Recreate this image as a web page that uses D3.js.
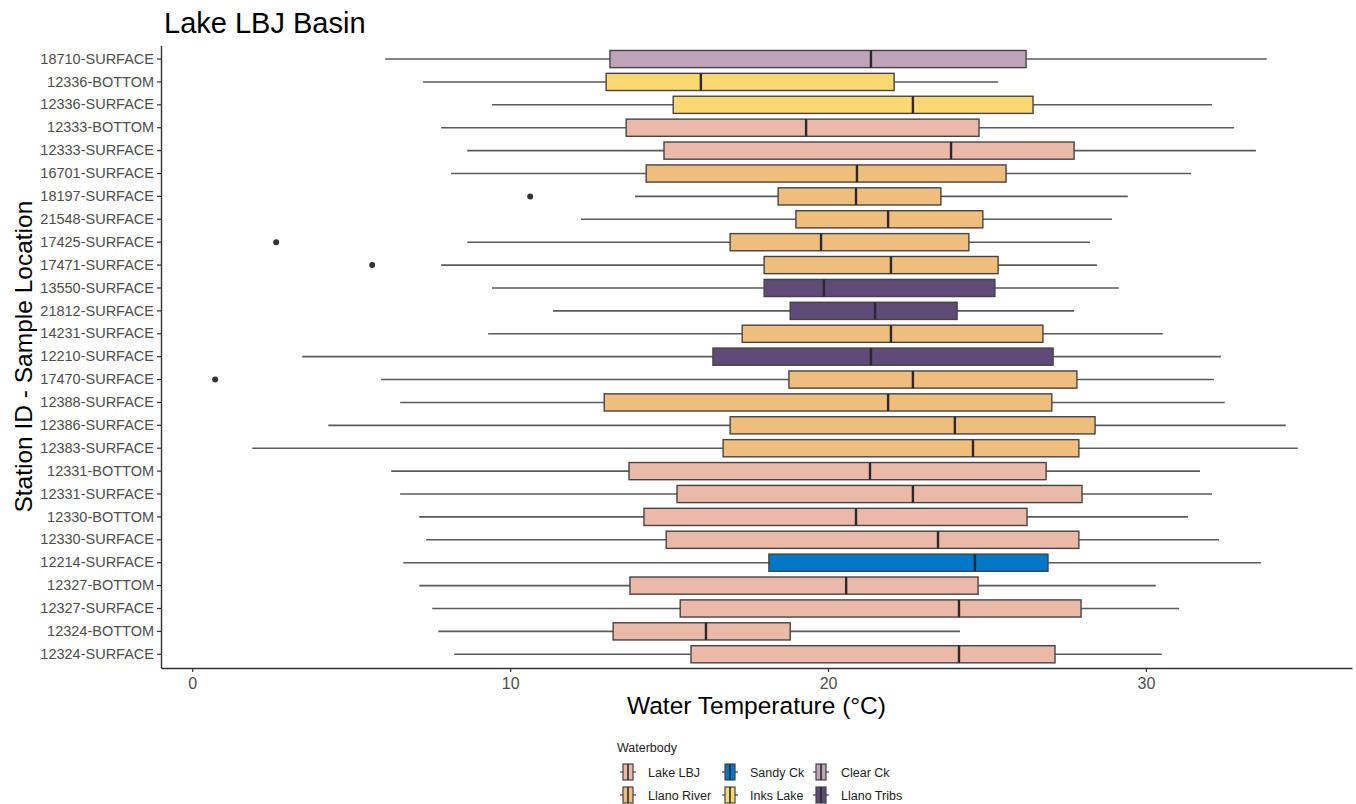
<!DOCTYPE html>
<html>
<head>
<meta charset="utf-8">
<script src="https://cdn.jsdelivr.net/npm/d3@7"></script>
<style>
  body { margin: 0; background: white; }
  text { font-family: "Liberation Sans", Arial, Helvetica, sans-serif; }
</style>
</head>
<body>
<svg id="chart" width="1356" height="804"></svg>
<script>
// Stations, top to bottom
var stations = [
  "18710-SURFACE", "12336-BOTTOM", "12336-SURFACE", "12333-BOTTOM", "12333-SURFACE",
  "16701-SURFACE", "18197-SURFACE", "21548-SURFACE", "17425-SURFACE", "17471-SURFACE",
  "13550-SURFACE", "21812-SURFACE", "14231-SURFACE", "12210-SURFACE", "17470-SURFACE",
  "12388-SURFACE", "12386-SURFACE", "12383-SURFACE", "12331-BOTTOM", "12331-SURFACE",
  "12330-BOTTOM", "12330-SURFACE", "12214-SURFACE", "12327-BOTTOM", "12327-SURFACE",
  "12324-BOTTOM", "12324-SURFACE"
];
var waterbody = [
  "Clear Ck", "Inks Lake", "Inks Lake", "Lake LBJ", "Lake LBJ",
  "Llano River", "Llano River", "Llano River", "Llano River", "Llano River",
  "Llano Tribs", "Llano Tribs", "Llano River", "Llano Tribs", "Llano River",
  "Llano River", "Llano River", "Llano River", "Lake LBJ", "Lake LBJ",
  "Lake LBJ", "Lake LBJ", "Sandy Ck", "Lake LBJ", "Lake LBJ",
  "Lake LBJ", "Lake LBJ"
];
// five-number summaries (lower whisker, Q1, median, Q3, upper whisker)
var lowWhisker = [6.07, 7.26, 9.43, 7.83, 8.65, 8.14, 13.93, 12.23, 8.65, 7.83,
  9.43, 11.35, 9.31, 3.46, 5.94, 6.54, 4.28, 1.89, 6.26, 6.54, 7.14, 7.36, 6.64, 7.14, 7.55, 7.74, 8.24];
var q1 = [13.14, 13.02, 15.13, 13.65, 14.84, 14.28, 18.43, 18.99, 16.92, 17.99,
  17.99, 18.81, 17.3, 16.38, 18.77, 12.96, 16.92, 16.7, 13.74, 15.25, 14.21, 14.91, 18.14, 13.77, 15.35, 13.24, 15.69];
var median = [21.35, 16.0, 22.67, 19.31, 23.87, 20.91, 20.88, 21.89, 19.78, 21.98,
  19.87, 21.48, 21.98, 21.35, 22.67, 21.89, 23.99, 24.56, 21.32, 22.67, 20.88, 23.46, 24.62, 20.57, 24.12, 16.16, 24.12];
var q3 = [26.23, 22.08, 26.45, 24.75, 27.74, 25.6, 23.55, 24.87, 24.43, 25.35,
  25.25, 24.06, 26.76, 27.08, 27.83, 27.04, 28.4, 27.89, 26.86, 27.99, 26.26, 27.89, 26.92, 24.72, 27.96, 18.81, 27.14];
var highWhisker = [33.8, 25.35, 32.08, 32.77, 33.46, 31.42, 29.43, 28.93, 28.24, 28.46,
  29.15, 27.74, 30.53, 32.36, 32.14, 32.48, 34.4, 34.78, 31.7, 32.08, 31.32, 32.3, 33.62, 30.31, 31.04, 24.15, 30.5];
// outliers
var outlierStation = ["18197-SURFACE", "17425-SURFACE", "17471-SURFACE", "17470-SURFACE"];
var outlierValue = [10.63, 2.64, 5.66, 0.72];

var legendNames = ["Lake LBJ", "Llano River", "Sandy Ck", "Inks Lake", "Clear Ck", "Llano Tribs"];
var legendColors = ["#EBB9A7", "#EFBE7D", "#0077C8", "#FCD872", "#BFA3B9", "#5F4A78"];
var xTicks = [0, 10, 20, 30];

var svg = d3.select("#chart");
var panelLeft = 161, panelRight = 1352, panelTop = 45.3, panelBottom = 668;

var color = d3.scaleOrdinal().domain(legendNames).range(legendColors);

// ggplot style 5% expansion
var allVals = lowWhisker.concat(highWhisker, outlierValue);
var lo = d3.min(allVals), hi = d3.max(allVals), pad = (hi - lo) * 0.05;
var x = d3.scaleLinear().domain([lo - pad, hi + pad]).range([panelLeft, panelRight]);

var y = d3.scaleBand().domain(stations).range([panelTop, panelBottom]).paddingOuter(0.1).paddingInner(0);
var band = y.bandwidth();
var boxH = band * 0.75;

var rows = stations.map(function (s, i) {
  return { s: s, wb: waterbody[i], lw: lowWhisker[i], q1: q1[i], md: median[i], q3: q3[i], hw: highWhisker[i] };
});

var g = svg.append("g");
var row = g.selectAll(".row").data(rows).enter().append("g")
  .attr("transform", function (d) { return "translate(0," + (y(d.s) + band / 2) + ")"; });

// whiskers
row.append("line").attr("x1", function (d) { return x(d.lw); }).attr("x2", function (d) { return x(d.q1); })
  .attr("stroke", "#5a5a5a").attr("stroke-width", 1.6);
row.append("line").attr("x1", function (d) { return x(d.q3); }).attr("x2", function (d) { return x(d.hw); })
  .attr("stroke", "#5a5a5a").attr("stroke-width", 1.6);

// boxes
row.append("rect")
  .attr("x", function (d) { return x(d.q1); })
  .attr("width", function (d) { return x(d.q3) - x(d.q1); })
  .attr("y", -boxH / 2).attr("height", boxH)
  .attr("fill", function (d) { return color(d.wb); })
  .attr("stroke", "#444").attr("stroke-width", 1.4);

// medians
row.append("line").attr("x1", function (d) { return x(d.md); }).attr("x2", function (d) { return x(d.md); })
  .attr("y1", -boxH / 2).attr("y2", boxH / 2)
  .attr("stroke", "#2a2a2a").attr("stroke-width", 2.4);

// outliers
g.selectAll(".out").data(outlierStation).enter().append("circle")
  .attr("cx", function (d, i) { return x(outlierValue[i]); })
  .attr("cy", function (d) { return y(d) + band / 2; })
  .attr("r", 3).attr("fill", "#333");

// axes
var xAxis = svg.append("g").attr("transform", "translate(0," + panelBottom + ")")
  .call(d3.axisBottom(x).tickValues(xTicks).tickSize(4).tickPadding(6).tickSizeOuter(0));
xAxis.select(".domain").attr("stroke", "#333").attr("stroke-width", 1.4);
xAxis.selectAll(".tick line").attr("stroke", "#333").attr("stroke-width", 1.2);
xAxis.selectAll(".tick text").attr("fill", "#4d4d4d").style("font-size", "16px");

var yAxis = svg.append("g").attr("transform", "translate(" + panelLeft + ",0)")
  .call(d3.axisLeft(y).tickSize(4).tickPadding(3).tickSizeOuter(0));
yAxis.select(".domain").attr("stroke", "#333").attr("stroke-width", 1.4);
yAxis.selectAll(".tick line").attr("stroke", "#333").attr("stroke-width", 1.2);
yAxis.selectAll(".tick text").attr("fill", "#4d4d4d").style("font-size", "14.5px");

// titles
svg.append("text").attr("x", 164).attr("y", 33).text("Lake LBJ Basin")
  .style("font-size", "29px").attr("fill", "#000");
svg.append("text").attr("x", (panelLeft + panelRight) / 2).attr("y", 714).attr("text-anchor", "middle")
  .text("Water Temperature (°C)").style("font-size", "24.5px").attr("fill", "#000");
svg.append("text").attr("transform", "translate(32," + (panelTop + panelBottom) / 2 + ") rotate(-90)")
  .attr("text-anchor", "middle").text("Station ID - Sample Location")
  .style("font-size", "24.5px").attr("fill", "#000");

// legend
var lg = svg.append("g");
lg.append("text").attr("x", 617).attr("y", 752).text("Waterbody").style("font-size", "12.5px").attr("fill", "#222");
var colX = [628, 730, 821];
var rowY = [772, 795];
var item = lg.selectAll(".item").data(legendNames).enter().append("g")
  .attr("transform", function (d, i) { return "translate(" + colX[Math.floor(i / 2)] + "," + rowY[i % 2] + ")"; });
item.append("line").attr("x1", -8).attr("x2", 8).attr("stroke", "#5a5a5a").attr("stroke-width", 1.4);
item.append("rect").attr("x", -5).attr("width", 10).attr("y", -8).attr("height", 16)
  .attr("fill", function (d) { return color(d); }).attr("stroke", "#444").attr("stroke-width", 1.2);
item.append("line").attr("y1", -8).attr("y2", 8).attr("stroke", "#2a2a2a").attr("stroke-width", 1.6);
item.append("text").attr("x", 20).attr("y", 4.5).text(function (d) { return d; })
  .style("font-size", "12.5px").attr("fill", "#222");
</script>
</body>
</html>
